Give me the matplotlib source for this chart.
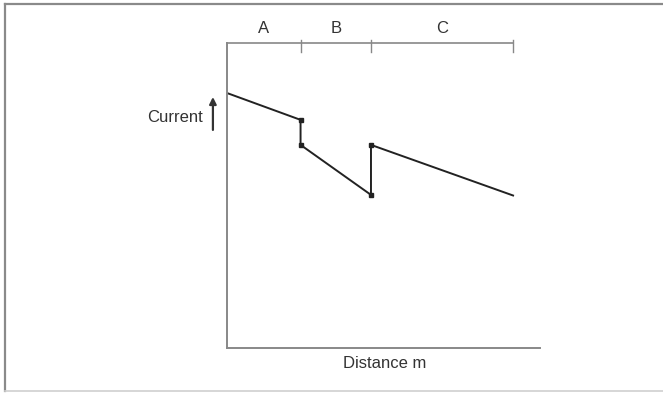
import numpy as np
import matplotlib
matplotlib.use("Agg")
from matplotlib import pyplot as plt
from matplotlib.lines import Line2D

plt.rcParams['font.family'] = ['Liberation Sans', 'DejaVu Sans']

# section boundaries along the cable (distance, % of axis)
sections = ['A', 'B', 'C']
bounds = [0, 23.5, 46.0, 91.4]

# current profile: distance / current pairs (jumps at section joints)
dist = [0, 23.5, 23.5, 46.0, 46.0, 91.4]
current = [83.6, 74.8, 66.6, 50.2, 66.6, 50.0]
joint_dist = [23.5, 23.5, 46.0, 46.0]
joint_current = [74.8, 66.6, 50.2, 66.6]

W, H = 663, 393
fig = plt.figure(figsize=(W / 100, H / 100), dpi=100)

# outer frame (left, top, bottom)
fig.add_artist(Line2D([5 / W, 5 / W], [1 - 4 / H, 1 - 391 / H], transform=fig.transFigure,
                      color='#8a8a8a', lw=1.6))
fig.add_artist(Line2D([5 / W, 1], [1 - 4 / H, 1 - 4 / H], transform=fig.transFigure,
                      color='#8a8a8a', lw=1.6))
fig.add_artist(Line2D([5 / W, 1], [1 - 391 / H, 1 - 391 / H], transform=fig.transFigure,
                      color='#d0d0d0', lw=1.2))

ax = fig.add_axes([227 / W, (H - 348) / H, 313 / W, 305 / H])
ax.set_xlim(0, 100)
ax.set_ylim(0, 100)
for s in ['top', 'right']:
    ax.spines[s].set_visible(False)
for s in ['left', 'bottom']:
    ax.spines[s].set_color('#888888')
    ax.spines[s].set_linewidth(1.4)
ax.set_xticks([])
ax.set_yticks([])

ax.plot(dist, current, color='#222222', lw=1.4)
ax.plot(joint_dist, joint_current, ls='none', marker='s', ms=3.4, color='#222222')

# section bracket along the top
ax.plot([bounds[0], bounds[-1]], [100, 100], color='#888888', lw=1.2, clip_on=False)
for b in bounds[1:]:
    ax.plot([b, b], [101.0, 97.0], color='#888888', lw=1.0, clip_on=False)
for i, name in enumerate(sections):
    ax.text((bounds[i] + bounds[i + 1]) / 2, 104.6, name, ha='center', va='center',
            fontsize=12, color='#333333', clip_on=False)

ax.text(50.5, -5.0, 'Distance m', ha='center', va='center', fontsize=12, color='#333333')
ax.text(-7.8, 75.5, 'Current', ha='right', va='center', fontsize=12, color='#333333')
ax.annotate('', xy=(-4.5, 82.3), xytext=(-4.5, 71.5), xycoords='data',
            arrowprops=dict(arrowstyle='-|>', color='#333333', lw=1.6,
                            mutation_scale=10, shrinkA=0, shrinkB=0),
            annotation_clip=False)

fig.savefig('out.png', dpi=100)
